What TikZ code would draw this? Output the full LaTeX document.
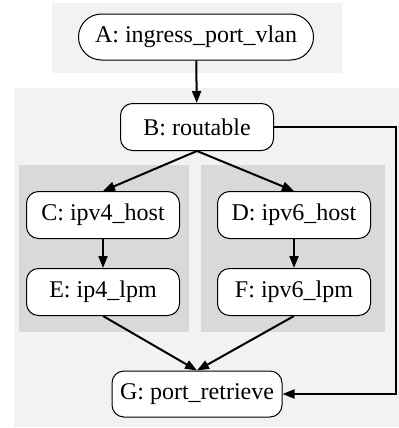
\documentclass[tikz,border=0pt]{standalone}
\usepackage{fontspec}
\setmainfont{Liberation Serif}
\usetikzlibrary{arrows.meta}

\begin{document}
\begin{tikzpicture}[x=0.5pt,y=-0.5pt,
  tbl/.style={draw=black,line width=0.5pt,fill=white,rounded corners=6pt,
    minimum width=76.5pt,minimum height=23.5pt,inner sep=0pt,
    font=\rmfamily\fontsize{12}{14}\selectfont},
  flow/.style={line width=1pt,-{Triangle[length=6pt,width=4.5pt]}}]
\useasboundingbox (0,0) rectangle (399,428);
% cluster backgrounds
\fill[black!5] (52,3) rectangle (342,73);
\fill[black!5] (14,88) rectangle (399,427);
\fill[black!15] (19,165) rectangle (189,332);
\fill[black!15] (201,165) rectangle (385,332);
% tables
\node[tbl,minimum width=117.5pt,minimum height=23pt,rounded corners=11.5pt] (A) at (196,37) {A: ingress\_port\_vlan};
\node[tbl] (B) at (197,127) {B: routable};
\node[tbl] (C) at (103,215) {C: ipv4\_host};
\node[tbl] (D) at (294,215) {D: ipv6\_host};
\node[tbl] (E) at (103,292) {E: ip4\_lpm};
\node[tbl] (F) at (294,292) {F: ipv6\_lpm};
\node[tbl,minimum width=85pt,minimum height=23pt] (G) at (197,394) {G: port\_retrieve};
% edges
\draw[flow] (A) -- (B);
\draw[flow] (B.south) -- (C.north);
\draw[flow] (B.south) -- (D.north);
\draw[flow] (C) -- (E);
\draw[flow] (D) -- (F);
\draw[flow] (E.south) -- (G.north);
\draw[flow] (F.south) -- (G.north);
\coordinate (turn) at (396,127);
\draw[flow] (B.east) -- (turn) |- (G.east);
\end{tikzpicture}
\end{document}
